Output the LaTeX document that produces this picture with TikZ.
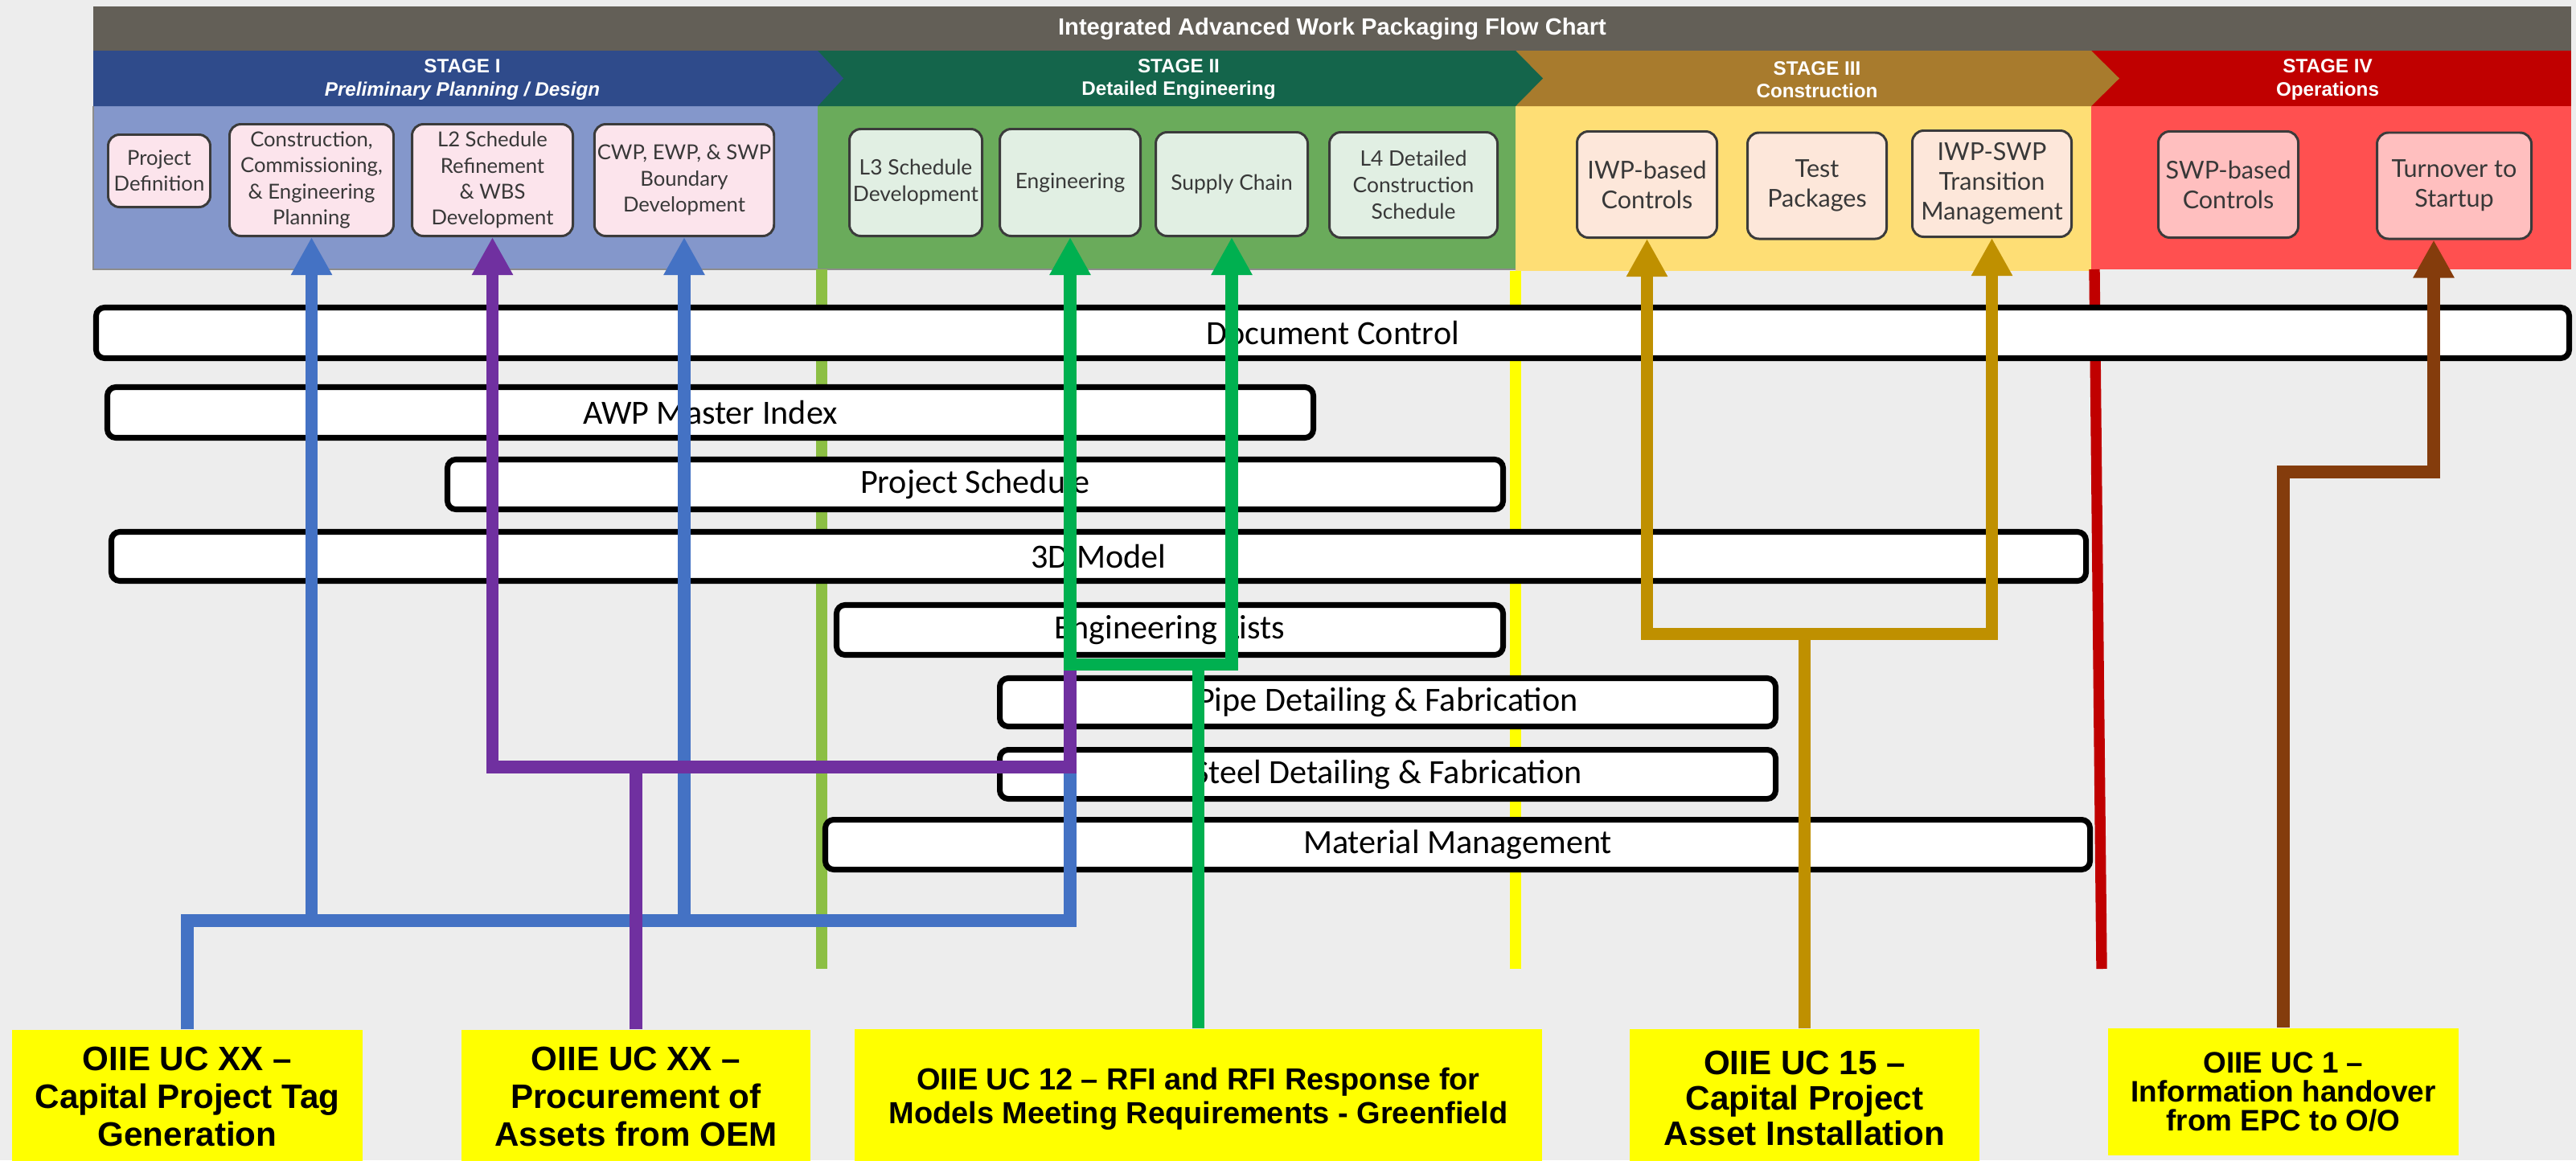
\documentclass[tikz,border=0pt]{standalone}
\usepackage{fontspec}
\setmainfont{Liberation Sans}
\newfontfamily\barfont{Carlito}
\newfontfamily\boxfont{Lato}
\usetikzlibrary{arrows.meta,positioning,calc}

\definecolor{pagebg}{HTML}{EDEDED}
\definecolor{titlegray}{HTML}{635F57}
\definecolor{hdrone}{HTML}{2F4B8B}
\definecolor{hdrtwo}{HTML}{14654B}
\definecolor{hdrthree}{HTML}{A87B2D}
\definecolor{hdrfour}{HTML}{C00000}
\definecolor{bodyone}{HTML}{8497CB}
\definecolor{bodytwo}{HTML}{6AAB5B}
\definecolor{bodythree}{HTML}{FEDE75}
\definecolor{bodyfour}{HTML}{FF5050}
\definecolor{fillone}{HTML}{FCE4EC}
\definecolor{filltwo}{HTML}{E1EFE3}
\definecolor{fillthree}{HTML}{FDE7DA}
\definecolor{fillfour}{HTML}{FFBFBF}
\definecolor{taskedge}{HTML}{3B3B3B}
\definecolor{wireblue}{HTML}{4472C4}
\definecolor{wirepurple}{HTML}{7030A0}
\definecolor{wiregreen}{HTML}{00B050}
\definecolor{wiregold}{HTML}{BF9000}
\definecolor{wirebrown}{HTML}{843C0C}
\definecolor{seplime}{HTML}{8CBF44}
\definecolor{ucyellow}{HTML}{FFFF00}

\tikzset{
  titletext/.style={text=white, font=\bfseries\fontsize{8.3}{10}\selectfont},
  stagetext/.style={text=white, align=center, font=\bfseries\fontsize{6.9}{8}\selectfont},
  task/.style={draw=taskedge, line width=0.85pt, rounded corners=4pt, align=center, inner sep=1pt, text=black!78},
  ptask/.style={task, fill=fillone, font=\boxfont\fontsize{7.3}{9.2}\selectfont},
  etask/.style={task, fill=filltwo, font=\boxfont\fontsize{7.5}{9.4}\selectfont},
  ctask/.style={task, fill=fillthree, font=\boxfont\fontsize{8.7}{10.5}\selectfont},
  otask/.style={task, fill=fillfour, font=\boxfont\fontsize{8.7}{10.5}\selectfont},
  bar/.style={draw=black, line width=2pt, fill=white, rounded corners=3pt, inner sep=0pt, font=\barfont\fontsize{12}{14}\selectfont},
  divider/.style={line width=3.8pt},
  usecase/.style={fill=ucyellow, align=center, inner sep=0pt, font=\bfseries\fontsize{12}{13.3}\selectfont},
  wire/.style={line width=4.4pt},
  link/.style={wire, -{Triangle[length=4.7mm, width=4.8mm]}},
  twolink/.style={wire, {Triangle[length=4.7mm, width=4.8mm]}-{Triangle[length=4.7mm, width=4.8mm]}}
}

\begin{document}
\begin{tikzpicture}[x=1cm,y=1cm]
  \useasboundingbox (0,0) rectangle (32.04,-14.43);
  \fill[pagebg] (0,0) rectangle (32.04,-14.43);

  % heading and stage bands
  \fill[titlegray] (1.16,-0.08) rectangle (31.98,-0.63);
  \node[titletext] (title) at (16.57,-0.36) {Integrated Advanced Work Packaging Flow Chart};
  \fill[bodyone] (1.16,-1.32) rectangle (10.17,-3.35);
  \fill[bodytwo] (10.17,-1.32) rectangle (18.85,-3.35);
  \fill[bodythree] (18.85,-1.32) rectangle (26.01,-3.37);
  \fill[bodyfour] (26.01,-1.32) rectangle (31.98,-3.35);
  \draw[black!45, line width=0.5pt] (1.16,-1.32) -- (1.16,-3.35) -- (18.85,-3.35);
  \fill[hdrfour] (26.01,-0.63) rectangle (31.98,-1.32);
  \fill[hdrthree] (18.85,-0.63) -- (26.01,-0.63) -- (26.36,-0.975) -- (26.01,-1.32) -- (18.85,-1.32) -- cycle;
  \fill[hdrtwo] (10.17,-0.63) -- (18.85,-0.63) -- (19.19,-0.975) -- (18.85,-1.32) -- (10.17,-1.32) -- cycle;
  \fill[hdrone] (1.16,-0.63) -- (10.17,-0.63) -- (10.49,-0.975) -- (10.17,-1.32) -- (1.16,-1.32) -- cycle;
  \node[stagetext] (sone) at (5.75,-0.99) {STAGE I\\\itshape Preliminary Planning / Design};
  \node[stagetext] (stwo) at (14.66,-0.99) {STAGE II\\Detailed Engineering};
  \node[stagetext] (sthree) at (22.60,-0.99) {STAGE III\\Construction};
  \node[stagetext] (sfour) at (28.95,-0.99) {STAGE IV\\Operations};

  % work steps of each stage
  \node[ptask, minimum width=1.27cm, minimum height=0.90cm] (pdef) at (1.98,-2.125) {Project\\Definition};
  \node[ptask, minimum width=2.04cm, minimum height=1.39cm] (ccep) at (3.875,-2.24) {Construction,\\Commissioning,\\\& Engineering\\Planning};
  \node[ptask, minimum width=2.00cm, minimum height=1.39cm] (ltwo) at (6.125,-2.24) {L2 Schedule\\Refinement\\\& WBS\\Development};
  \node[ptask, minimum width=2.21cm, minimum height=1.39cm] (bound) at (8.51,-2.24) {CWP, EWP, \& SWP\\Boundary\\Development};
  \node[etask, minimum width=1.65cm, minimum height=1.33cm] (lthree) at (11.39,-2.27) {L3 Schedule\\Development};
  \node[etask, minimum width=1.75cm, minimum height=1.33cm] (engg) at (13.31,-2.27) {Engineering};
  \node[etask, minimum width=1.89cm, minimum height=1.29cm] (supply) at (15.32,-2.29) {Supply Chain};
  \node[etask, minimum width=2.09cm, minimum height=1.31cm] (lfour) at (17.58,-2.30) {L4 Detailed\\Construction\\Schedule};
  \node[ctask, minimum width=1.74cm, minimum height=1.32cm] (iwpctl) at (20.485,-2.295) {IWP-based\\Controls};
  \node[ctask, minimum width=1.73cm, minimum height=1.32cm] (testpk) at (22.60,-2.31) {Test\\Packages};
  \node[ctask, minimum width=1.98cm, minimum height=1.32cm] (transm) at (24.775,-2.285) {IWP-SWP\\Transition\\Management};
  \node[otask, minimum width=1.74cm, minimum height=1.32cm] (swpctl) at (27.715,-2.295) {SWP-based\\Controls};
  \node[otask, minimum width=1.92cm, minimum height=1.32cm] (turnover) at (30.525,-2.31) {Turnover to\\Startup};

  % stage dividers running down behind the bars
  \draw[divider, seplime] (10.22,-3.35) -- (10.22,-12.05);
  \draw[divider, ucyellow] (18.85,-3.37) -- (18.85,-12.05);
  \draw[divider, hdrfour] (26.05,-3.35) -- (26.14,-12.05);

  % shared systems
  \node[bar, minimum width=30.76cm, minimum height=0.63cm] (doc) at (16.575,-4.14) {Document Control};
  \node[bar, minimum width=15.00cm, minimum height=0.63cm] (awp) at (8.835,-5.13) {AWP Master Index};
  \node[bar, minimum width=13.13cm, minimum height=0.62cm] (sched) at (12.13,-6.025) {Project Schedule};
  \node[bar, minimum width=24.56cm, minimum height=0.61cm] (model) at (13.665,-6.92) {3D Model};
  \node[bar, minimum width=8.29cm, minimum height=0.62cm] (englist) at (14.55,-7.835) {Engineering Lists};
  \node[bar, minimum width=9.65cm, minimum height=0.60cm] (pipe) at (17.26,-8.735) {Pipe Detailing \& Fabrication};
  \node[bar, minimum width=9.65cm, minimum height=0.61cm] (steel) at (17.26,-9.63) {Steel Detailing \& Fabrication};
  \node[bar, minimum width=15.73cm, minimum height=0.62cm] (matl) at (18.13,-10.505) {Material Management};

  % use cases
  \node[usecase, minimum width=4.36cm, minimum height=1.66cm] (ucTag) at (2.33,-13.64) {OIIE UC XX –\\Capital Project Tag\\Generation};
  \node[usecase, minimum width=4.34cm, minimum height=1.66cm] (ucProc) at (7.91,-13.64) {OIIE UC XX –\\Procurement of\\Assets from OEM};
  \node[usecase, minimum width=8.55cm, minimum height=1.74cm, font=\bfseries\fontsize{10.8}{11.9}\selectfont] (ucRfi) at (14.905,-13.67) {OIIE UC 12 – RFI and RFI Response for\\Models Meeting Requirements - Greenfield};
  \node[usecase, minimum width=4.35cm, minimum height=1.72cm, font=\bfseries\fontsize{12}{12.6}\selectfont] (ucAsset) at (22.445,-13.66) {OIIE UC 15 –\\Capital Project\\Asset Installation};
  \node[usecase, minimum width=4.36cm, minimum height=1.58cm, font=\bfseries\fontsize{10.5}{10.2}\selectfont] (ucHand) at (28.40,-13.58) {OIIE UC 1 –\\Information handover\\from EPC to O/O};

  % bus levels of the connectors
  \coordinate (tagBus) at (0,-11.45);
  \coordinate (procBus) at (0,-9.54);
  \coordinate (rfiBus) at (0,-8.265);
  \coordinate (assetBus) at (0,-7.885);

  \draw[wire, wireblue] (ucTag.north) |- (tagBus -| engg.south) -- (procBus -| engg.south);
  \draw[twolink, wireblue] (ccep.south) -- (tagBus -| ccep.south) -- (tagBus -| bound.south) -- (bound.south);
  \draw[wire, wirepurple] (ucProc.north) -- (procBus -| ucProc.north);
  \draw[link, wirepurple] (rfiBus -| engg.south) -- (procBus -| engg.south) -- (procBus -| ltwo.south) -- (ltwo.south);
  \draw[wire, wiregreen] (ucRfi.north) -- (rfiBus -| ucRfi.north);
  \draw[twolink, wiregreen] (engg.south) -- (rfiBus -| engg.south) -- (rfiBus -| supply.south) -- (supply.south);
  \draw[wire, wiregold] (ucAsset.north) -- (assetBus -| ucAsset.north);
  \draw[twolink, wiregold] (iwpctl.south) -- (assetBus -| iwpctl.south) -- (assetBus -| transm.south) -- (transm.south);
  \draw[link, wirebrown] (ucHand.north) |- ($(turnover.south)+(-0.255,-2.885)$) -- ($(turnover.south)+(-0.255,0)$);
\end{tikzpicture}
\end{document}
